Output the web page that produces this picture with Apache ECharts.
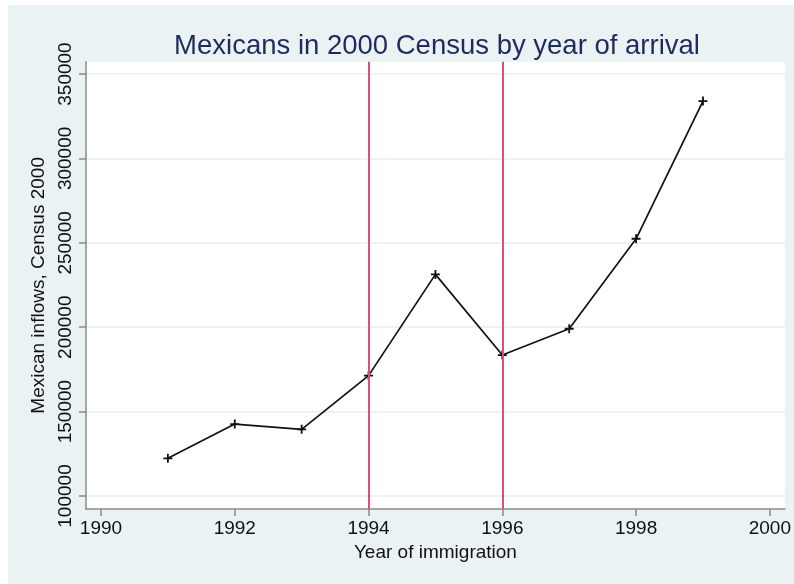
<!DOCTYPE html>
<html>
<head>
<meta charset="utf-8">
<script src="https://cdn.jsdelivr.net/npm/echarts@6/dist/echarts.min.js"></script>
<style>
  html, body { margin: 0; padding: 0; background: #ffffff; }
  #frame { position: absolute; left: 8px; top: 5px; width: 786px; height: 579px; background: #eaf2f3; }
</style>
</head>
<body>
<div id="frame"></div>
<script>
// Year of arrival and number of Mexican-born people counted in the 2000 Census
const years = [1991, 1992, 1993, 1994, 1995, 1996, 1997, 1998, 1999];
const inflows = [122300, 142600, 139500, 171300, 231300, 183500, 199100, 252400, 334000];

// Reference years marked with vertical lines
const markYears = [1994, 1996];

// Tick labels
const xTicks = [1990, 1992, 1994, 1996, 1998, 2000];
const yTicks = [100000, 150000, 200000, 250000, 300000, 350000];

const chart = echarts.init(document.getElementById('frame'), null, { renderer: 'canvas' });

const FONT = 'Liberation Sans';
const axisGrey = '#8a8a8a';
const plusSymbol = 'path://M4,0H6V4H10V6H6V10H4V6H0V4H4Z';
const plain = v => String(v);

chart.setOption({
  animation: false,
  backgroundColor: 'transparent',
  title: {
    text: 'Mexicans in 2000 Census by year of arrival',
    left: 424,
    textAlign: 'center',
    top: 22,
    textStyle: { fontFamily: FONT, fontSize: 27.5, fontWeight: 'normal', color: '#1f2b5c' }
  },
  grid: {
    left: 78, right: 8, top: 56.7, bottom: 75,
    show: true, backgroundColor: '#ffffff', borderWidth: 0
  },
  xAxis: {
    type: 'value',
    min: 1989.776, max: 2000.224,
    name: 'Year of immigration',
    nameLocation: 'middle',
    nameGap: 33,
    nameTextStyle: { fontFamily: FONT, fontSize: 19, color: '#111111' },
    axisLine: { show: true, onZero: false, lineStyle: { color: axisGrey, width: 1.5 } },
    axisTick: { show: true, length: 7, customValues: xTicks, lineStyle: { color: axisGrey, width: 1.5 } },
    axisLabel: { customValues: xTicks, formatter: plain, margin: 10, fontFamily: FONT, fontSize: 19, color: '#111111',
                 showMinLabel: true, showMaxLabel: true },
    splitLine: { show: false }
  },
  yAxis: {
    type: 'value',
    min: 92300, max: 357300,
    name: 'Mexican inflows, Census 2000',
    nameLocation: 'middle',
    nameGap: 36,
    nameTextStyle: { fontFamily: FONT, fontSize: 19, color: '#111111' },
    axisLine: { show: true, onZero: false, lineStyle: { color: axisGrey, width: 1.5 } },
    axisTick: { show: true, length: 7, customValues: yTicks, lineStyle: { color: axisGrey, width: 1.5 } },
    axisLabel: { customValues: yTicks, formatter: plain, rotate: 90, margin: 11, fontFamily: FONT, fontSize: 19, color: '#111111',
                 showMinLabel: true, showMaxLabel: true },
    splitLine: { show: true, lineStyle: { color: '#e7efef', width: 1.5 } }
  },
  series: [{
    type: 'line',
    data: years.map((y, i) => [y, inflows[i]]),
    symbol: plusSymbol,
    symbolSize: 9,
    showSymbol: true,
    itemStyle: { color: '#111111' },
    lineStyle: { color: '#111111', width: 1.7 },
    z: 3,
    markLine: {
      silent: true,
      symbol: ['none', 'none'],
      label: { show: false },
      lineStyle: { color: '#db5079', width: 2, type: 'solid' },
      emphasis: { disabled: true },
      data: markYears.map(v => ({ xAxis: v }))
    }
  }]
});
</script>
</body>
</html>
